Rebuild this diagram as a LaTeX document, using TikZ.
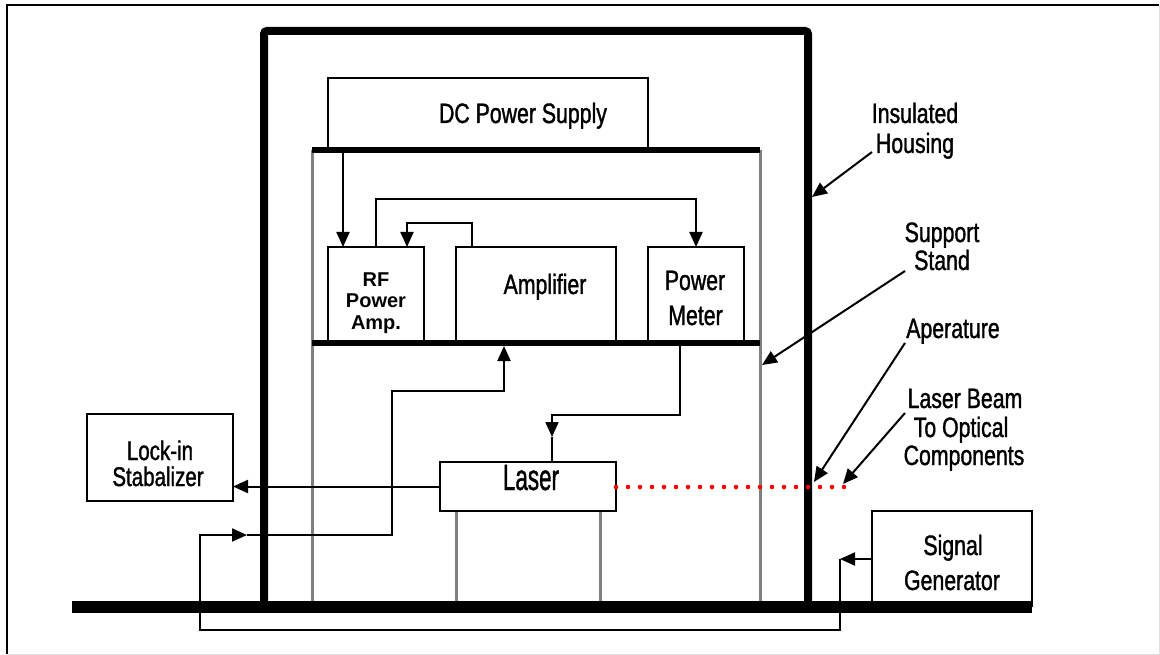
\documentclass[tikz,border=0pt]{standalone}
\usepackage{fontspec}
\setmainfont{Liberation Sans}
\newfontfamily\nf[FakeStretch=0.76,FakeBold=1.2]{Liberation Sans}
\newfontfamily\nflaser[FakeStretch=0.8,FakeBold=1.2]{Liberation Sans}
\usetikzlibrary{arrows.meta}
\begin{document}
\begin{tikzpicture}[x=1pt,y=-1pt,
  box/.style={draw,line width=2.5pt,inner sep=0pt,outer sep=0pt,fill=white},
  conn/.style={line width=2pt},
  arr/.style={conn,-{Triangle[length=15pt,width=13pt]}},
  txt/.style={font=\nf\fontsize{28}{28}\selectfont,inner sep=0pt,anchor=base},
  rftxt/.style={font=\bfseries\fontsize{20}{20}\selectfont,inner sep=0pt,anchor=base},
  post/.style={line width=3pt,draw=gray},
  shelf/.style={line width=6pt},
]
\useasboundingbox (0,0) rectangle (1160,655);
% outer frame
\draw[line width=0.8pt,draw=black!12] (1159,5.5) -- (1159,654) -- (6.5,654);
\draw[line width=2pt] (6.5,654) -- (6.5,5.5) -- (1159,5.5);

% insulated housing
\draw[line width=8pt,rounded corners=3pt] (264,601) -- (264,31) -- (808,31) -- (808,601);

% support stand posts
\draw[post] (312,150) -- (312,603);
\draw[post] (760,150) -- (760,603);

% boxes
\node[box,minimum width=320pt,minimum height=72pt] (dc) at (488,114) {};
\node[box,minimum width=96pt,minimum height=96pt] (rf) at (376,295) {};
\node[box,minimum width=160pt,minimum height=96pt] (amp) at (536,295) {};
\node[box,minimum width=96pt,minimum height=96pt] (pm) at (696,295) {};
\node[box,minimum width=176pt,minimum height=49pt] (laser) at (528,486.5) {};
\node[box,minimum width=146pt,minimum height=87pt] (lock) at (160,457.5) {};
\node[box,minimum width=160pt,minimum height=95pt] (sig) at (952,558.5) {};

% laser legs
\draw[post] (456,512) -- (456,603);
\draw[post] (600,512) -- (600,603);

% shelves and ground
\draw[shelf] (312,150.5) -- (760,150.5);
\draw[shelf] (312,343) -- (760,343);
\draw[line width=12pt] (72,607) -- (1032,607);

% connectors
\draw[arr] ([xshift=15pt,yshift=-3pt]dc.south west) -- ([xshift=15pt]rf.north west);
\draw[arr] (rf.north) -- ++(0,-48) -| (pm.north);
\draw[arr] ([xshift=16pt]amp.north west) -- ++(0,-24) -| ([xshift=-17pt]rf.north east);
\coordinate (pmturn) at (552,415);
\coordinate (pmtip) at (552,437);
\draw[arr] ([xshift=-16pt,yshift=-3pt]pm.south) |- (pmturn) -- (pmtip);
\draw[conn] (pmtip) -- (pmtip |- laser.north);
\draw[arr] (laser.west) -- (lock.east |- laser.west);

\coordinate (sgtip) at (840,559);
\coordinate (sgbot) at (840,630);
\coordinate (sgleft) at (200,535);
\coordinate (sgmid) at (247,535);
\coordinate (sgup) at (392,391);
\draw[arr] (sig.west |- sgtip) -- (sgtip);
\draw[arr] (sgtip) -- (sgbot) -| (sgleft) -- (sgmid);
\draw[arr] (sgmid) -| (sgup) -| ([xshift=-32pt,yshift=-3pt]amp.south);

% laser beam
\coordinate (beamend) at (844,487);
\draw[red,line width=4.6pt,line cap=round,dash pattern=on 0pt off 12pt] (laser.east) ++(0,0.5) -- (beamend);

% callout arrows
\coordinate (ihs) at (872,152); \coordinate (iht) at (812,197);
\coordinate (sss) at (905,271); \coordinate (sst) at (762,365);
\coordinate (aps) at (905,343); \coordinate (apt) at (814,482);
\coordinate (lbs) at (905,413); \coordinate (lbt) at (843,484);
\draw[arr] (ihs) -- (iht);
\draw[arr] (sss) -- (sst);
\draw[arr] (aps) -- (apt);
\draw[arr] (lbs) -- (lbt);

% texts
\node[txt] (tdc) at (523,123) {DC Power Supply};
\node[rftxt] (trf1) at (376,287) {RF};
\node[rftxt] (trf2) at (376,308) {Power};
\node[rftxt] (trf3) at (376,330) {Amp.};
\node[txt] (tamp) at (545,294) {Amplifier};
\node[txt] (tpm1) at (695,290) {Power};
\node[txt] (tpm2) at (695.5,325) {Meter};
\node[inner sep=0pt,anchor=base,font=\nflaser\fontsize{28}{28}\selectfont] (tlaser) at (531,490) {\scalebox{1}[1.3]{Laser}};
\node[txt,font=\nf\fontsize{27}{27}\selectfont] (tlock1) at (160,460) {Lock-in};
\node[txt,font=\nf\fontsize{27}{27}\selectfont] (tlock2) at (158,486) {Stabalizer};
\node[txt] (tsig1) at (953,555) {Signal};
\node[txt] (tsig2) at (952,590) {Generator};
\node[txt] (tih1) at (915,123) {Insulated};
\node[txt] (tih2) at (915,153) {Housing};
\node[txt] (tss1) at (942,242) {Support};
\node[txt] (tss2) at (942,270) {Stand};
\node[txt] (tap) at (953,338) {Aperature};
\node[txt] (tlb1) at (965,408) {Laser Beam};
\node[txt] (tlb2) at (961,437) {To Optical};
\node[txt] (tlb3) at (964,465) {Components};
\end{tikzpicture}
\end{document}
